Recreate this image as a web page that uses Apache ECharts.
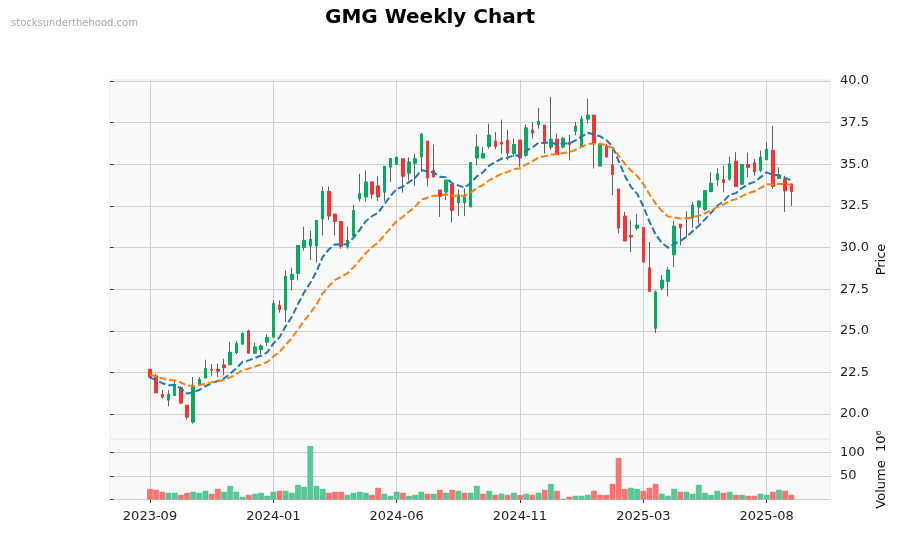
<!DOCTYPE html>
<html><head><meta charset="utf-8">
<script src="https://cdn.jsdelivr.net/npm/echarts/dist/echarts.min.js"></script>
<style>html,body{margin:0;padding:0;background:#fff}#c{width:900px;height:533px}</style>
</head><body><div id="c"></div>
<script>
// ---- data (weekly bars) ----
const dates = [
'2023-09-11','2023-09-18','2023-09-25','2023-10-02','2023-10-09','2023-10-16','2023-10-23','2023-10-30','2023-11-06','2023-11-13',
'2023-11-20','2023-11-27','2023-12-04','2023-12-11','2023-12-18','2023-12-25','2024-01-01','2024-01-08','2024-01-15','2024-01-22',
'2024-01-29','2024-02-05','2024-02-12','2024-02-19','2024-02-26','2024-03-04','2024-03-11','2024-03-18','2024-03-25','2024-04-01',
'2024-04-08','2024-04-15','2024-04-22','2024-04-29','2024-05-06','2024-05-13','2024-05-20','2024-05-27','2024-06-03','2024-06-10',
'2024-06-17','2024-06-24','2024-07-01','2024-07-08','2024-07-15','2024-07-22','2024-07-29','2024-08-05','2024-08-12','2024-08-19',
'2024-08-26','2024-09-02','2024-09-09','2024-09-16','2024-09-23','2024-09-30','2024-10-07','2024-10-14','2024-10-21','2024-10-28',
'2024-11-04','2024-11-11','2024-11-18','2024-11-25','2024-12-02','2024-12-09','2024-12-16','2024-12-23','2024-12-30','2025-01-06',
'2025-01-13','2025-01-20','2025-01-27','2025-02-03','2025-02-10','2025-02-17','2025-02-24','2025-03-03','2025-03-10','2025-03-17',
'2025-03-24','2025-03-31','2025-04-07','2025-04-14','2025-04-21','2025-04-28','2025-05-05','2025-05-12','2025-05-19','2025-05-26',
'2025-06-02','2025-06-09','2025-06-16','2025-06-23','2025-06-30','2025-07-07','2025-07-14','2025-07-21','2025-07-28','2025-08-04',
'2025-08-11','2025-08-18','2025-08-25','2025-09-01','2025-09-08'];

const opens = [
22.68,22.28,21.16,20.84,21.12,21.58,20.52,19.52,21.72,22.16,
22.68,22.68,22.94,22.96,23.70,24.20,24.98,23.66,23.88,24.32,
24.62,26.52,26.26,28.08,28.46,30.02,30.10,30.10,31.72,33.36,
32.00,31.56,30.07,30.69,32.93,33.05,33.93,33.69,33.33,34.83,
35.00,35.32,34.47,35.07,35.44,36.38,34.62,33.44,33.34,33.78,
32.70,32.70,32.44,35.38,35.38,36.08,36.38,36.30,36.44,35.64,
36.44,35.54,37.04,37.38,37.34,36.04,36.50,36.04,36.30,36.98,
36.10,37.72,37.94,34.90,36.08,34.94,33.50,31.88,30.72,31.17,
31.19,28.77,25.16,27.57,27.98,29.57,31.39,31.78,31.79,32.43,
32.30,33.37,34.07,34.07,34.11,35.18,33.81,34.98,35.08,34.62,
35.28,35.83,34.15,34.11,33.81];

const closes = [
22.22,21.28,21.02,21.18,21.78,20.66,19.82,21.66,22.06,22.72,
22.64,22.58,22.78,23.70,24.22,24.84,23.66,24.02,24.08,24.60,
26.62,26.28,28.26,28.38,30.12,30.42,30.48,31.62,33.36,31.90,
31.58,30.08,30.41,32.21,33.23,33.93,33.21,33.05,34.87,35.33,
35.42,34.29,35.13,35.32,36.80,34.18,34.25,33.08,34.04,32.24,
33.14,33.04,35.10,36.04,35.64,36.74,36.08,36.22,35.68,36.18,
35.38,37.18,36.88,37.58,36.24,36.50,35.58,36.54,36.20,37.28,
37.70,37.94,36.30,36.18,35.44,34.38,31.18,30.40,30.64,31.33,
29.13,27.38,27.32,28.03,28.63,31.27,31.19,31.73,32.54,32.78,
33.41,33.85,34.42,33.91,35.02,33.67,34.98,34.82,34.56,35.42,
35.89,33.67,34.31,33.41,33.38];

const lows = [
22.15,21.25,20.92,20.46,21.10,20.62,19.66,19.42,21.72,22.16,
22.30,22.22,22.32,22.96,23.58,24.20,23.62,23.62,23.58,24.08,
24.62,26.08,25.52,27.42,28.02,29.82,29.26,29.10,30.72,31.66,
30.72,29.92,29.93,30.69,32.77,32.77,32.93,32.79,32.77,33.93,
35.00,33.29,34.03,33.69,34.53,33.67,34.22,31.84,32.84,31.50,
31.88,31.88,32.44,34.94,35.38,35.94,35.90,35.64,35.24,35.44,
34.84,35.44,36.54,37.14,35.64,35.88,35.58,35.94,35.24,36.74,
36.10,37.44,34.74,34.90,35.38,33.14,30.84,30.40,29.73,31.03,
29.13,27.32,24.86,27.42,27.06,28.83,30.13,30.63,31.19,31.43,
32.20,33.31,33.71,33.31,34.01,33.67,33.75,34.21,34.31,34.52,
35.28,33.51,34.11,32.14,32.50];

const highs = [
22.72,22.42,21.46,21.42,22.02,21.66,20.52,22.22,22.22,23.26,
23.00,23.02,23.32,24.32,24.38,24.90,25.06,24.28,24.18,24.78,
26.82,26.82,28.62,28.78,30.12,31.26,31.02,31.62,33.66,33.66,
32.00,31.56,31.25,32.57,34.43,34.63,33.93,34.27,34.87,35.38,
35.42,35.32,35.42,35.64,36.88,36.38,36.18,33.44,34.04,33.78,
33.48,33.54,35.10,36.78,36.04,37.44,36.94,37.68,37.08,36.54,
36.44,37.38,37.54,38.38,37.34,39.04,36.84,36.64,36.78,37.54,
37.90,38.94,37.94,36.18,36.24,36.04,33.50,32.14,31.63,32.03,
31.19,30.33,27.42,28.33,28.83,31.59,31.39,32.17,32.74,32.84,
33.41,34.52,34.76,34.92,35.46,35.73,34.98,35.69,35.32,35.83,
36.33,37.30,34.82,34.31,33.81];

// volume, in millions
const volumes = [
22.5,20.4,16.2,14.1,14.1,9.8,14.1,16.2,14.1,18.3,
12.0,22.5,16.2,28.8,16.2,5.6,9.8,12.0,14.1,7.7,
16.2,18.3,18.3,14.1,30.9,26.7,113.2,28.8,22.5,14.1,
16.2,16.2,9.8,14.1,16.2,14.1,9.8,24.6,12.0,7.7,
16.2,14.1,7.7,9.8,16.2,12.0,12.0,20.4,14.1,20.4,
18.3,14.1,14.1,28.8,12.0,18.3,9.8,12.0,9.8,14.1,
9.8,12.0,9.8,14.1,20.4,33.0,18.3,1.4,5.6,7.7,
7.7,9.8,18.3,9.8,9.8,33.0,87.9,22.5,24.6,22.5,
18.3,24.6,33.0,12.0,7.7,22.5,16.2,16.2,12.0,30.9,
14.1,9.8,18.3,14.1,16.2,9.8,9.8,7.7,7.7,12.0,
9.8,16.2,20.4,18.3,9.8];

// moving-average values at the first bar
const ema10AtFirstBar = 22.20;
const ema20AtFirstBar = 22.36;

const priceTickLabels = ['20.0','22.5','25.0','27.5','30.0','32.5','35.0','37.5','40.0'];
const volumeTickLabels = ['50','100'];

// ---- derived ----
function ema(src, span, first){
  const a = 2/(span+1); const out=[first];
  for(let i=1;i<src.length;i++) out.push(+(out[i-1]+a*(src[i]-out[i-1])).toFixed(3));
  return out;
}
const ema10 = ema(closes,10,ema10AtFirstBar);
const ema20 = ema(closes,20,ema20AtFirstBar);

const UP='#00b060', DOWN='#fe3032', WICK='#606060', VUP='#4dc790', VDOWN='#fd6b6c';
const candleData = dates.map((d,i)=>[opens[i],closes[i],lows[i],highs[i]]);
const bodyData = dates.map((d,i)=>[opens[i],closes[i],Math.min(opens[i],closes[i]),Math.max(opens[i],closes[i])]);
const volData = volumes.map((v,i)=>{
  const up = i===0 ? closes[i]>=opens[i] : closes[i]>=closes[i-1];
  return {value:v,itemStyle:{color:up?VUP:VDOWN,borderColor:up?'#38b57c':'#ee5a5b'}};
});

const FONT='DejaVu Sans';
const GRID='#d0d0d0';
const hidden = (g)=>({type:'value',gridIndex:g,show:false});

const chart = echarts.init(document.getElementById('c'),null,{renderer:'canvas'});
chart.setOption({
  animation:false,
  backgroundColor:'#ffffff',
  textStyle:{fontFamily:FONT},
  title:[
    {text:'GMG Weekly Chart',left:325,top:8,padding:0,textStyle:{fontFamily:FONT,fontSize:20,fontWeight:'bold',color:'#000'}},
    {text:'stocksunderthehood.com',left:11,top:18,padding:0,textStyle:{fontFamily:FONT,fontSize:10,fontWeight:'normal',color:'#aaaaaa'}}
  ],
  grid:[
    {left:110,right:70,top:80,height:359,show:true,backgroundColor:'#fafafa',borderColor:'#ececec',borderWidth:1},
    {left:110,right:70,top:81,height:333},
    {left:150,right:108.7,top:80,height:359},
    {left:110,right:70,top:439.5,height:60,show:true,backgroundColor:'#fafafa',borderColor:'#ececec',borderWidth:1},
    {left:110,right:70,top:452.3,height:47.2},
    {left:150,right:108.7,top:439.5,height:60}
  ],
  xAxis:[
    hidden(0), hidden(1),
    {type:'category',gridIndex:2,data:dates,boundaryGap:false,
     axisLine:{show:false},axisTick:{show:false},axisLabel:{show:false},
     splitLine:{show:true,interval:19,lineStyle:{color:GRID,width:1}}},
    hidden(3), hidden(4),
    {type:'category',gridIndex:5,data:dates,boundaryGap:false,
     axisLine:{show:false},
     axisTick:{show:true,interval:19,length:3.5,lineStyle:{color:'#333'}},
     axisLabel:{show:true,interval:19,margin:11,fontFamily:FONT,fontSize:13,color:'#222',
       formatter:(v)=>v.slice(0,7)},
     splitLine:{show:true,interval:19,lineStyle:{color:GRID,width:1}}}
  ],
  yAxis:[
    {type:'value',gridIndex:0,position:'right',min:0,max:1,
     axisLine:{show:false},axisTick:{show:false},axisLabel:{show:false},splitLine:{show:false},
     name:'Price',nameLocation:'middle',nameRotate:90,nameGap:45,
     nameTextStyle:{fontFamily:FONT,fontSize:13,color:'#101010'}},
    {type:'value',gridIndex:1,position:'right',min:20,max:40,interval:2.5,z:1,
     axisLine:{show:false},
     axisTick:{show:true,length:3.5,lineStyle:{color:'#333'}},
     axisLabel:{margin:10,fontFamily:FONT,fontSize:13,color:'#222',
       formatter:(v)=>{const s=v.toFixed(1);return priceTickLabels.includes(s)?s:'';}},
     splitLine:{show:true,lineStyle:{color:GRID,width:1}}},
    {type:'value',gridIndex:2,min:18.498,max:40.06,show:false},
    {type:'value',gridIndex:3,position:'right',min:0,max:1,
     axisLine:{show:false},axisTick:{show:false},axisLabel:{show:false},splitLine:{show:false},
     name:'Volume  10\u2076',nameLocation:'middle',nameRotate:90,nameGap:45,
     nameTextStyle:{fontFamily:FONT,fontSize:13,color:'#101010'}},
    {type:'value',gridIndex:4,position:'right',min:0,max:100,interval:50,z:1,
     axisLine:{show:false},
     axisTick:{show:true,length:3.5,lineStyle:{color:'#333'}},
     axisLabel:{margin:10,fontFamily:FONT,fontSize:13,color:'#222',
       formatter:(v)=>{const s=String(v);return volumeTickLabels.includes(s)?s:'';}},
     splitLine:{show:true,lineStyle:{color:GRID,width:1}}},
    {type:'value',gridIndex:5,min:0,max:127.1,show:false}
  ],
  series:[
    {type:'candlestick',name:'wick',xAxisIndex:2,yAxisIndex:2,data:candleData,barWidth:3,clip:false,z:2,
     itemStyle:{color:UP,color0:DOWN,borderColor:WICK,borderColor0:WICK,borderWidth:1}},
    {type:'candlestick',name:'body',xAxisIndex:2,yAxisIndex:2,data:bodyData,barWidth:3,clip:false,z:3,
     itemStyle:{color:UP,color0:DOWN,borderColor:UP,borderColor0:DOWN,borderWidth:1}},
    {type:'line',name:'EMA10',xAxisIndex:2,yAxisIndex:2,data:ema10,symbol:'none',z:4,clip:false,
     lineStyle:{color:'#1f77b4',width:2,type:[7,3]}},
    {type:'line',name:'EMA20',xAxisIndex:2,yAxisIndex:2,data:ema20,symbol:'none',z:4,clip:false,
     lineStyle:{color:'#ff7f0e',width:2,type:[7,3]}},
    {type:'bar',name:'Volume',xAxisIndex:5,yAxisIndex:5,data:volData,barWidth:5.6,clip:false,z:2,
     itemStyle:{opacity:0.95,borderWidth:0.6}}
  ]
});
</script>
</body></html>
